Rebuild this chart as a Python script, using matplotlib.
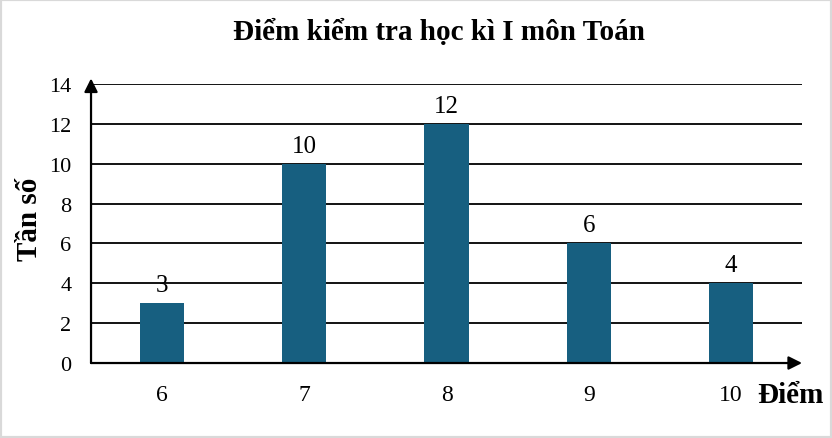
import matplotlib.pyplot as plt
from matplotlib.patches import Rectangle
import numpy as np

plt.rcParams['font.family'] = ['Liberation Serif', 'DejaVu Serif']

scores = ['6', '7', '8', '9', '10']
counts = [3, 10, 12, 6, 4]
yticks = [0, 2, 4, 6, 8, 10, 12, 14]
bar_color = '#175f80'

fig = plt.figure(figsize=(8.32, 4.39), dpi=100)
ax = fig.add_axes([0.1094, 0.1708, 0.8546, 0.6356])

x = np.arange(len(scores))
bars = ax.bar(x, counts, width=0.31, color=bar_color, zorder=3)
ax.bar_label(bars, labels=[str(c) for c in counts], padding=5, fontsize=18)

# gridlines
for t in yticks[1:]:
    ax.axhline(t, color='black', lw=1.3, zorder=1)

ax.set_xlim(-0.5, 4.5)
ax.set_ylim(0, 14)
ax.set_xticks(x)
ax.set_xticklabels(scores)
ax.set_yticks(yticks)
ax.set_yticklabels([str(t) for t in yticks])
ax.tick_params(length=0)
ax.tick_params(axis='x', pad=15, labelsize=17)
ax.tick_params(axis='y', pad=14, labelsize=16)
for s in ax.spines.values():
    s.set_visible(False)

# axis arrows
ax.annotate('', xy=(0, 1.02), xytext=(0, 0), xycoords='axes fraction',
            arrowprops=dict(arrowstyle='-|>', lw=1.6, color='black',
                            mutation_scale=20, shrinkA=0, shrinkB=0), zorder=5)
ax.annotate('', xy=(1.0, 0), xytext=(0, 0), xycoords='axes fraction',
            arrowprops=dict(arrowstyle='-|>', lw=1.6, color='black',
                            mutation_scale=20, shrinkA=0, shrinkB=0), zorder=5)

fig.text(0.528, 0.925, 'Điểm kiểm tra học kì I môn Toán', ha='center', va='center',
         fontsize=21, fontweight='bold')
fig.text(0.036, 0.50, 'Tần số', ha='center', va='center', rotation=90,
         fontsize=21, fontweight='bold')
fig.text(0.95, 0.098, 'Điểm', ha='center', va='center',
         fontsize=21, fontweight='bold')

fig.patches.append(Rectangle((0, 0), 1, 1, transform=fig.transFigure, fill=False,
                             edgecolor='#d9d9d9', lw=3, zorder=10))

fig.savefig('out.png', dpi=100)
